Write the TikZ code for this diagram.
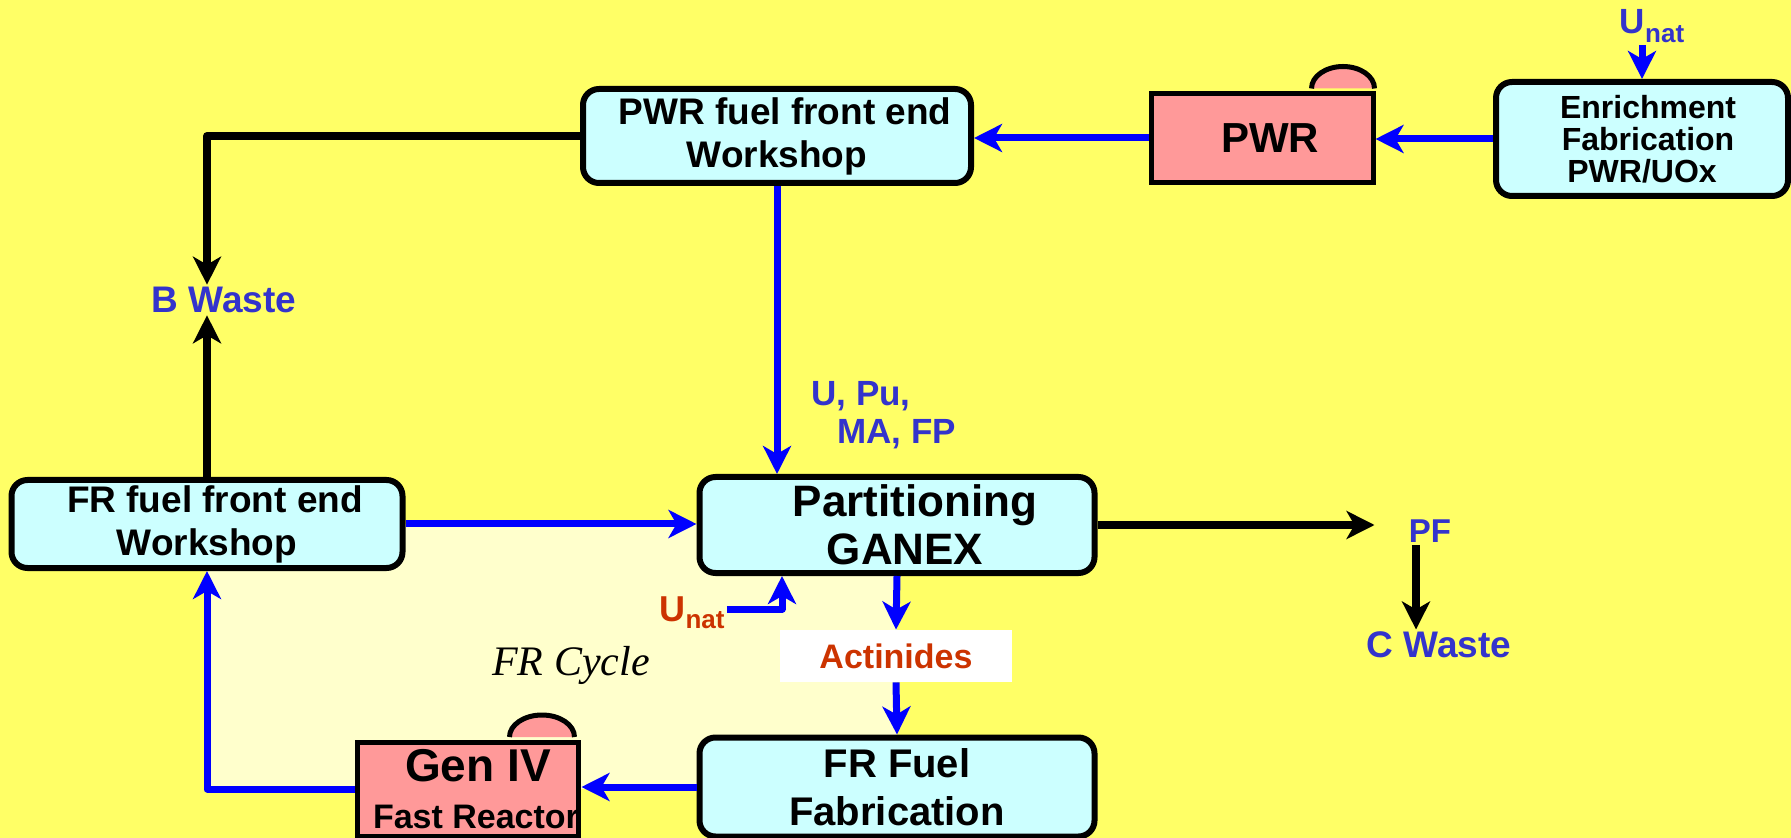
\documentclass[tikz,border=0pt]{standalone}
\usepackage{fontspec}
\setmainfont{Liberation Sans}
\newfontfamily\cyclefont{Liberation Serif}
\usetikzlibrary{arrows.meta,positioning,calc,backgrounds}
\definecolor{bgyel}{RGB}{255,255,102}
\definecolor{cyclel}{RGB}{255,255,204}
\definecolor{shop}{RGB}{204,255,255}
\definecolor{reac}{RGB}{255,153,153}
\definecolor{lbl}{RGB}{51,51,204}
\definecolor{redl}{RGB}{204,51,0}

\begin{document}
\begin{tikzpicture}[x=0.5pt,y=-0.5pt,
  box/.style={draw,line width=3pt,rounded corners=8pt,fill=shop,align=center,font=\fontsize{18.5}{21.5}\selectfont\bfseries,inner sep=0pt},
  reactor/.style={draw,line width=2.5pt,fill=reac,align=center,inner sep=0pt},
  dome/.style={draw,line width=2.5pt,fill=reac},
  lab/.style={text=lbl,font=\fontsize{18.5}{21}\selectfont\bfseries,inner sep=1pt},
  bar/.style={blue,line width=3.5pt,line join=round,-{Stealth[length=14pt,width=14pt,inset=4pt]}},
  kar/.style={black,line width=4pt,line join=round,-{Stealth[length=14pt,width=14pt,inset=4pt]}}
]
\useasboundingbox (0,0) rectangle (1791,838);
\node[box,minimum width=194pt,minimum height=47pt] (pwrfe) at (777,136) {\hspace*{8pt}PWR fuel front end\\Workshop};
\node[reactor,minimum width=111pt,minimum height=44.5pt,font=\fontsize{21}{24}\selectfont\bfseries] (pwr) at (1262,138) {\hspace*{8pt}PWR};
\draw[dome] ([xshift=-32pt,yshift=1.25pt]pwr.north east) arc[start angle=180,end angle=0,x radius=15.75pt,y radius=11pt];
\node[box,minimum width=146pt,minimum height=57pt,font=\fontsize{16}{16}\selectfont\bfseries] (enrich) at (1642,139) {\hspace*{6pt}Enrichment\\\hspace*{6pt}Fabrication\\PWR/UOx};
\node[lab,font=\fontsize{17.5}{20}\selectfont\bfseries] (unattop) at (1652,26) {U\raisebox{-4.5pt}{\fontsize{13}{13}\selectfont nat}};
\node[lab] (bwaste) at (224,300) {B Waste};
\node[box,minimum width=195.5pt,minimum height=44pt] (frfe) at (207,524) {\hspace*{8pt}FR fuel front end\\Workshop};
\node[box,minimum width=197.5pt,minimum height=48pt,font=\fontsize{22}{24}\selectfont\bfseries] (ganex) at (897,525) {\hspace*{18pt}Partitioning\\\hspace*{8pt}GANEX};
\node[lab,font=\fontsize{17.5}{19}\selectfont\bfseries,align=left,anchor=west] (upu) at (809,415) {U, Pu,\\\hspace*{13pt}MA, FP};
\node[lab,font=\fontsize{16.5}{20}\selectfont\bfseries] (pf) at (1430,531) {PF};
\node[lab] (cwaste) at (1439,645) {C Waste};
\node[text=redl,font=\fontsize{18}{20}\selectfont\bfseries,inner sep=1pt] (unatred) at (692,613) {U\raisebox{-3.5pt}{\fontsize{13}{13}\selectfont nat}};
\node[fill=white,minimum width=116pt,minimum height=26pt,text=redl,font=\fontsize{17}{20}\selectfont\bfseries] (acti) at (896,656) {Actinides};
\node[box,minimum width=197.5pt,minimum height=49.5pt,font=\fontsize{20}{24}\selectfont\bfseries] (frff) at (897,787) {FR Fuel\\Fabrication};
\node[reactor,minimum width=108.5pt,minimum height=47pt,font=\fontsize{17}{23.5}\selectfont\bfseries] (gen) at (468,789) {\hspace*{10pt}{\fontsize{23}{26}\selectfont Gen IV}\\\hspace*{8pt}Fast Reactor};
\draw[dome] ([xshift=-36pt,yshift=1.25pt]gen.north east) arc[start angle=180,end angle=0,x radius=16.25pt,y radius=11pt];
\node[font=\fontsize{21}{24}\selectfont\cyclefont\itshape] (cycle) at (571,665) {FR Cycle};
\begin{scope}[on background layer]
\fill[bgyel] (0,0) rectangle (1791,838);
\fill[cyclel] (frfe.south |- frfe.east) rectangle (ganex.south |- gen.west);
\end{scope}
\draw[bar] (unattop.south -| enrich.north) -- (enrich.north);
\draw[bar] (enrich.west) -- (enrich.west -| pwr.east);
\draw[bar] (pwr.west) -- (pwr.west -| pwrfe.east);
\draw[kar] (pwrfe.west) -| (frfe.north |- bwaste.north);
\draw[kar] (frfe.north) -- (frfe.north |- bwaste.south);
\draw[bar] (pwrfe.south) -- (pwrfe.south |- ganex.north);
\draw[bar] (frfe.east) -- (frfe.east -| ganex.west);
\draw[kar,shorten >=16pt] (ganex.east) -- (ganex.east -| pf.west);
\draw[kar] ([xshift=-7pt]pf.south) -- ([xshift=-7pt]pf.south |- cwaste.north);
\draw[bar] ([yshift=2pt]unatred.east) -| ([xshift=-57.5pt]ganex.south);
\draw[bar] (ganex.south) -- (acti.north);
\draw[bar] (acti.south) -- (frff.north);
\draw[bar] (frff.west) -- (frff.west -| gen.east);
\draw[bar] (gen.west) -| (frfe.south);
\end{tikzpicture}
\end{document}
